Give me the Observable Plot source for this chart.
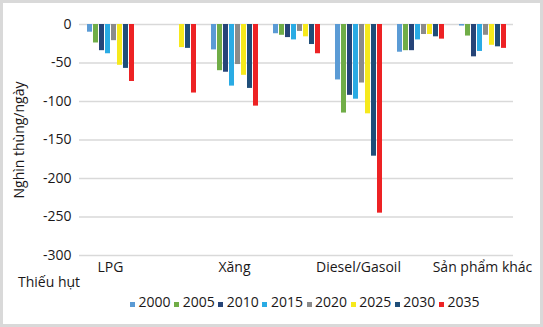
<!DOCTYPE html>
<html>
<head>
<meta charset="utf-8">
<script src="https://cdn.jsdelivr.net/npm/d3@7"></script>
<script src="https://cdn.jsdelivr.net/npm/@observablehq/plot@0.6"></script>
<style>
  body { margin: 0; background: #fff; }
  #frame { position: relative; width: 543px; height: 327px; background: #fff; overflow: hidden;
           font-family: "Open Sans", sans-serif; color: #1a1718; }
  #chart { position: absolute; left: 0; top: 0; }
  #border { position: absolute; left: 0; top: 0; width: 543px; height: 327px; box-sizing: border-box;
            border: 3px solid #d9d9d9; pointer-events: none; }
  #ytitle { position: absolute; left: -81px; top: 133px; width: 200px; height: 14px; line-height: 14px;
            font-size: 14px; text-align: center; transform: rotate(-90deg); white-space: nowrap; }
  #rowlabel { position: absolute; left: 18px; top: 275px; line-height: 14px; font-size: 14px; white-space: nowrap; }
  #legend { position: absolute; left: 130px; top: 295px; line-height: 14px; font-size: 14px; white-space: nowrap; }
  #legend .item { display: inline-block; margin-right: 3.6px; }
  #legend .sw { display: inline-block; width: 5px; height: 5px; margin-right: 3.5px; vertical-align: baseline; }
</style>
</head>
<body>
<div id="frame">
  <div id="chart"></div>
  <div id="ytitle">Nghìn thùng/ngày</div>
  <div id="rowlabel">Thiếu hụt</div>
  <div id="legend"></div>
  <div id="border"></div>
</div>
<script>
// Category labels (x axis); blank entries are the unlabeled groups
const categories = ["LPG", "", "Xăng", "", "Diesel/Gasoil", "", "Sản phẩm khác"];
const years = ["2000", "2005", "2010", "2015", "2020", "2025", "2030", "2035"];
const colors = ["#5b9bd5", "#70ad47", "#264478", "#2aabe4", "#8b8b8b", "#f6e91c", "#1f4e79", "#ed2224"];
const yTicks = [0, -50, -100, -150, -200, -250, -300];

// Values per year, one per category group (thousand barrels/day)
const v2000 = [-10, 0, -33, -12, -72, -36, -2];
const v2005 = [-24, 0, -60, -14, -115, -34, -15];
const v2010 = [-34, 0, -62, -17, -92, -34, -42];
const v2015 = [-38, 0, -80, -20, -97, -20, -35];
const v2020 = [-21, 0, -52, -9, -76, -13, -14];
const v2025 = [-53, -30, -66, -16, -116, -13, -27];
const v2030 = [-57, -31, -83, -26, -171, -16, -29];
const v2035 = [-74, -89, -106, -38, -245, -19, -31];

const series = [v2000, v2005, v2010, v2015, v2020, v2025, v2030, v2035];
const data = [];
series.forEach((vals, si) => vals.forEach((v, ci) => data.push({cat: ci, year: years[si], value: v})));

const chart = Plot.plot({
  width: 543,
  height: 290,
  marginLeft: 76,
  marginRight: 28,
  marginTop: 24,
  marginBottom: 35,
  style: {fontFamily: "Open Sans", fontSize: "14px", color: "#1a1718", background: "transparent"},
  fx: {domain: d3.range(categories.length), padding: 0, tickSize: 0, tickPadding: 7,
       tickFormat: i => categories[i], label: null, axis: "bottom"},
  x: {domain: years, paddingInner: 0.24, paddingOuter: 0.89, axis: null},
  y: {domain: [-300, 0], ticks: yTicks, tickSize: 0, tickPadding: 8, tickFormat: d => String(d), label: null},
  color: {domain: years, range: colors},
  marks: [
    Plot.gridY(yTicks, {stroke: "#d9d9d9", strokeOpacity: 1, strokeWidth: 1.5}),
    Plot.barY(data, {fx: "cat", x: "year", y: "value", fill: "year"})
  ]
});
document.getElementById("chart").appendChild(chart);

const legend = document.getElementById("legend");
years.forEach((y, i) => {
  const item = document.createElement("span");
  item.className = "item";
  const sw = document.createElement("span");
  sw.className = "sw";
  sw.style.background = colors[i];
  item.appendChild(sw);
  item.appendChild(document.createTextNode(y));
  legend.appendChild(item);
});
</script>
</body>
</html>
